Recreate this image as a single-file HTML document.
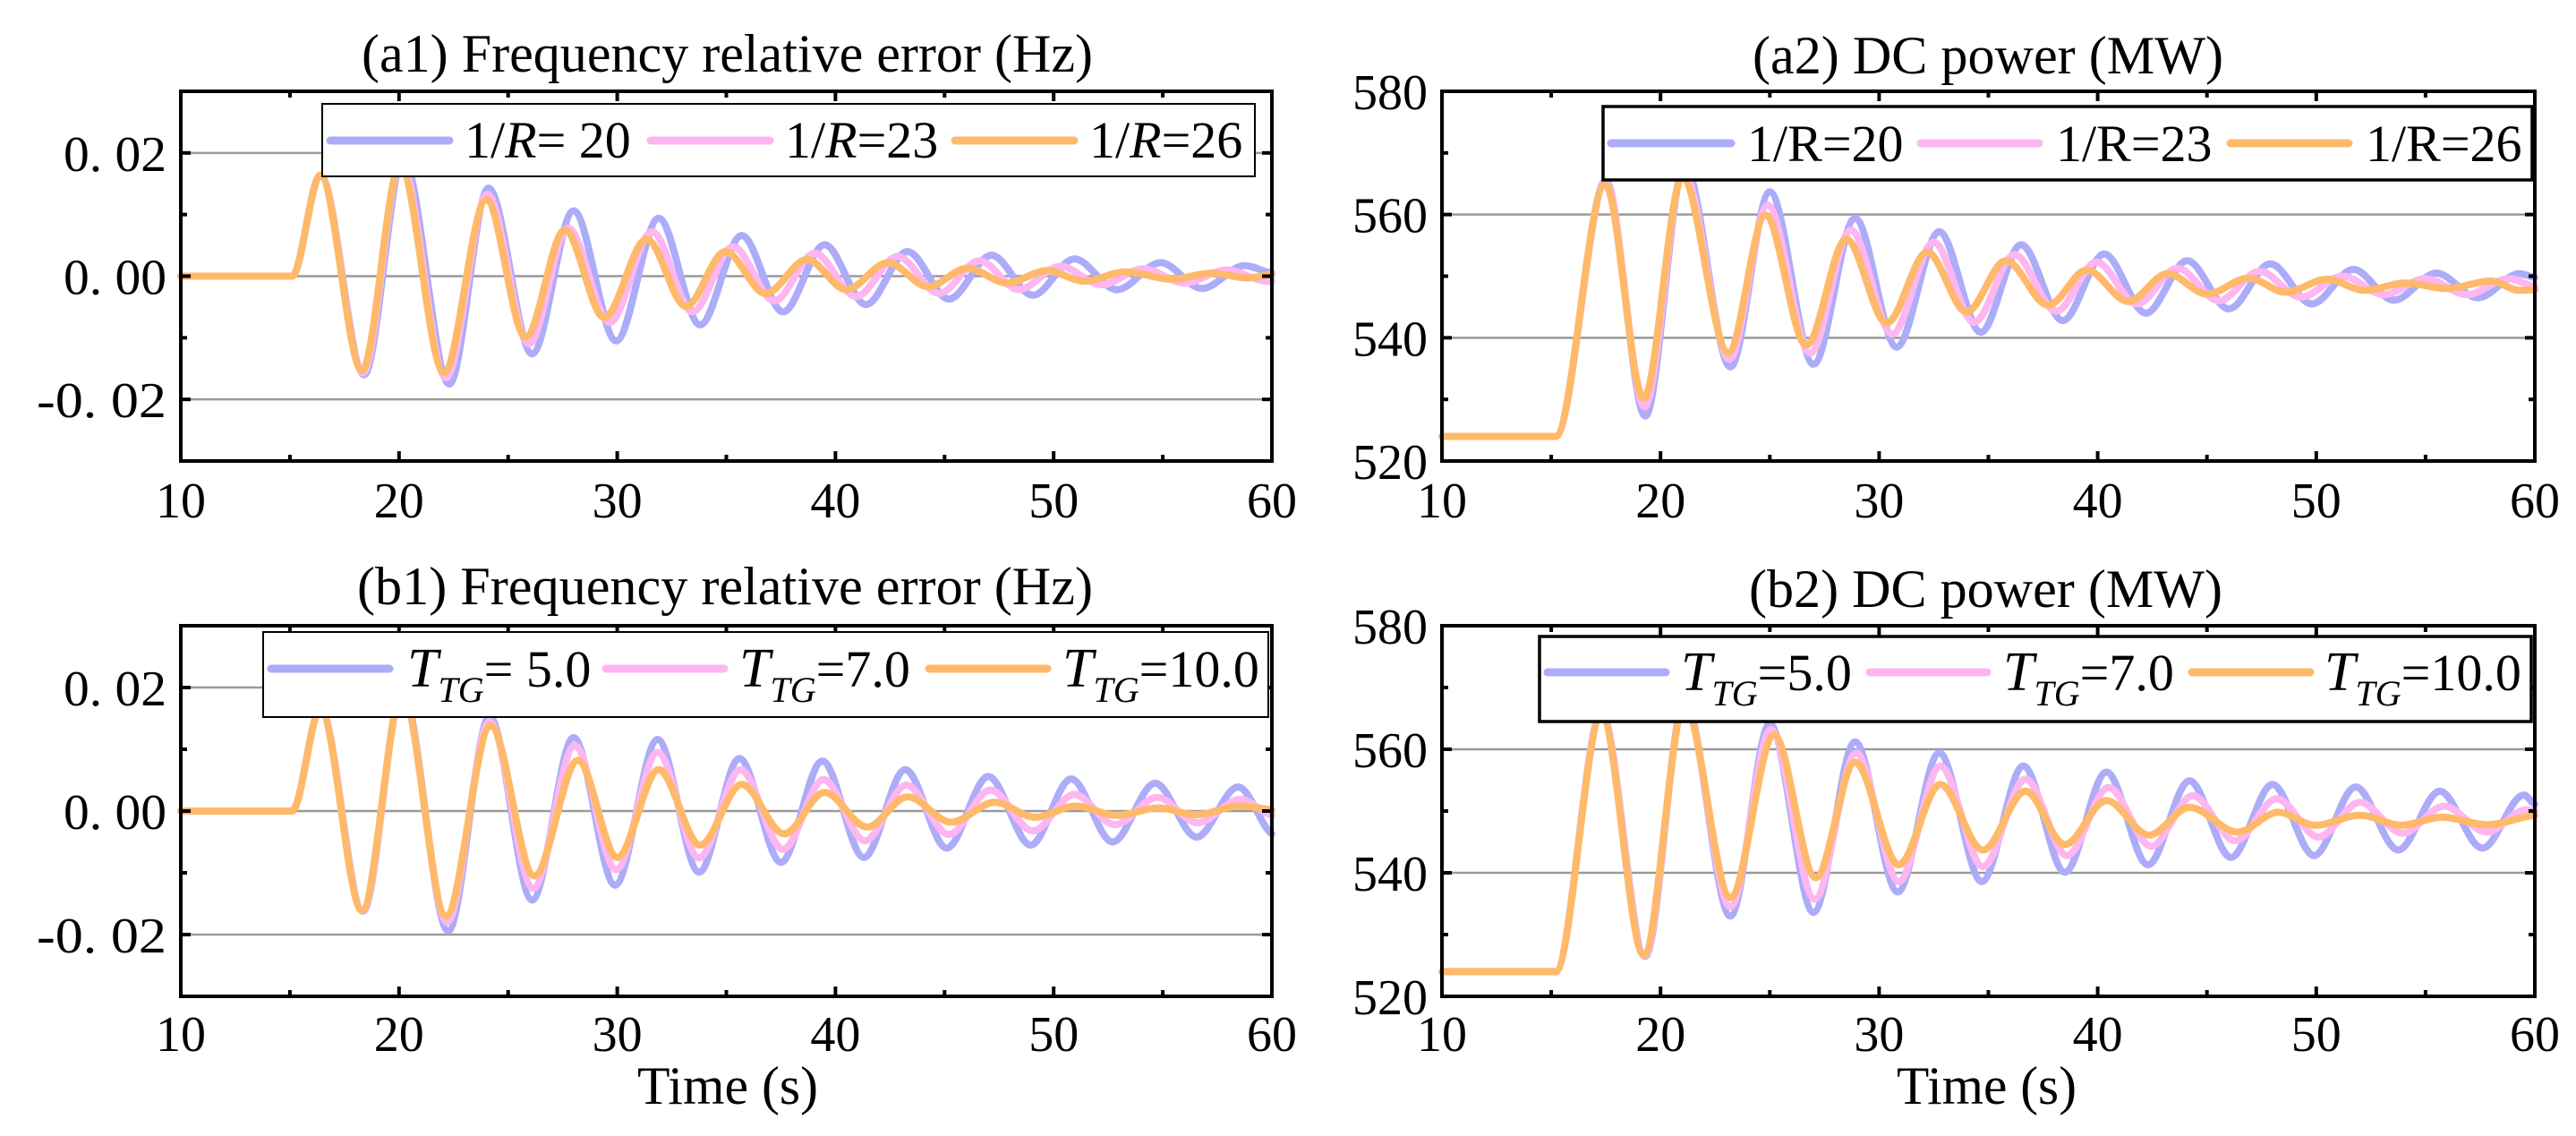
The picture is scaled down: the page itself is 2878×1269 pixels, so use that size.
<!DOCTYPE html>
<html><head><meta charset="utf-8"><style>
html,body{margin:0;padding:0;background:#fff;}
svg{display:block;font-family:"Liberation Serif","Times New Roman",serif;}
</style></head><body>
<svg id="fig" width="2878" height="1269" viewBox="0 0 2878 1269" xmlns="http://www.w3.org/2000/svg"></svg>
<script>
// ---- data (extrema) ----
const a1BlueT=[10,15.1,16.4,18.4,20.2,22.3,24.1,26.1,28.0,29.95,31.9,33.8,35.7,37.6,39.5,41.4,43.3,45.2,47.15,49.05,50.95,52.9,54.9,56.8,58.75,60];
const a1BlueV=[0,0,0.0164,-0.016,0.019,-0.0175,0.0143,-0.0126,0.0106,-0.0105,0.0094,-0.0079,0.0066,-0.0058,0.0051,-0.0046,0.004,-0.0037,0.0034,-0.0031,0.0028,-0.0022,0.0022,-0.002,0.0017,0.0005];
const a1PinkT=[10,15.1,16.4,18.35,20.1,22.15,24.05,25.95,27.75,29.65,31.6,33.45,35.3,37.2,39.05,40.95,42.85,44.75,46.6,48.4,50.3,52.2,54.1,56.0,57.9,59.8,60];
const a1PinkV=[0,0,0.0164,-0.0157,0.0185,-0.0165,0.0133,-0.011,0.0078,-0.0075,0.0072,-0.0058,0.0048,-0.004,0.0037,-0.0033,0.0032,-0.0028,0.0025,-0.0022,0.0016,-0.0014,0.0012,-0.0011,0.001,-0.0008,-0.0008];
const a1OrangeT=[10,15.1,16.4,18.3,20.05,22.05,24.0,25.8,27.6,29.4,31.35,33.15,34.95,36.8,38.7,40.5,42.4,44.25,46.05,47.85,49.7,51.4,53.3,55.4,57.25,58.9,60];
const a1OrangeV=[0,0,0.0164,-0.0153,0.018,-0.0156,0.0124,-0.0099,0.0075,-0.0067,0.006,-0.0049,0.004,-0.0028,0.0027,-0.0022,0.0022,-0.0017,0.0013,-0.0011,0.0009,-0.0008,0.0007,-0.0005,0.0005,-0.0003,0.0003];

const a2BlueT=[10,15.2,17.5,19.3,21.1,23.2,25.0,27.0,28.9,30.8,32.75,34.65,36.5,38.4,40.3,42.2,44.1,46.0,47.9,49.8,51.7,53.55,55.5,57.4,59.3,60];
const a2BlueV=[524,524,565.5,527.3,568,535.3,563.7,535.7,559.4,538.5,557.2,540.9,555.1,542.8,553.6,544,552.5,544.7,552,545.5,551.1,546.1,550.5,546.5,550.4,549.8];
const a2PinkT=[10,15.2,17.5,19.27,21.05,23.15,24.9,26.85,28.7,30.6,32.5,34.35,36.2,38.1,39.95,41.8,43.65,45.55,47.4,49.3,51.2,53.1,55.0,56.9,58.8,60];
const a2PinkV=[524,524,565.2,528.8,567,536.5,561.5,537.5,557.5,540.6,555.5,542.5,553.5,544.3,552.3,545.5,551.3,546,550.8,546.6,550,547,549.6,547,549.6,548.3];
const a2OrangeT=[10,15.2,17.47,19.23,21.0,23.1,24.8,26.67,28.5,30.35,32.2,34.0,35.8,37.74,39.5,41.4,43.2,45.0,46.9,48.6,50.5,52.2,54.1,55.95,58.0,59.3,60];
const a2OrangeV=[524,524,564.9,530.2,566,537.6,559.9,538.8,556,542.4,553.9,544.2,552.5,545.3,551,545.9,550.4,547.1,549.7,547.4,549.5,547.7,548.9,548,549.2,547.7,547.8];

const b1BlueT=[10,15.1,16.4,18.35,20.15,22.25,24.15,26.1,28.0,29.9,31.85,33.75,35.6,37.5,39.4,41.3,43.2,45.1,47.0,48.95,50.8,52.7,54.65,56.55,58.45,60];
const b1BlueV=[0,0,0.0165,-0.0162,0.0195,-0.0194,0.0153,-0.0144,0.0119,-0.012,0.0116,-0.0099,0.0085,-0.0083,0.0081,-0.0075,0.0067,-0.006,0.0056,-0.0055,0.0052,-0.005,0.0045,-0.0042,0.0039,-0.0037];
const b1PinkT=[10,15.1,16.4,18.33,20.15,22.2,24.15,26.15,28.05,29.95,31.85,33.75,35.65,37.6,39.45,41.35,43.25,45.2,47.1,49.05,50.95,52.8,54.75,56.6,58.55,60];
const b1PinkV=[0,0,0.0165,-0.0161,0.019,-0.018,0.0145,-0.0125,0.0106,-0.0095,0.0095,-0.0076,0.0067,-0.0062,0.0051,-0.0048,0.0042,-0.0038,0.0034,-0.0032,0.0027,-0.0022,0.0022,-0.0019,0.0019,-0.0007];
const b1OrangeT=[10,15.1,16.4,18.3,20.15,22.15,24.2,26.2,28.2,30.0,31.9,33.8,35.7,37.65,39.5,41.45,43.3,45.3,47.3,49.15,51.0,52.9,54.8,56.5,58.55,60];
const b1OrangeV=[0,0,0.0165,-0.0161,0.019,-0.017,0.0138,-0.0105,0.0082,-0.0075,0.0067,-0.0055,0.0043,-0.0037,0.003,-0.0026,0.0023,-0.0018,0.0014,-0.001,0.0008,-0.0007,0.0005,-0.0006,0.0008,0.0002];

const b2BlueT=[10,15.2,17.3,19.3,21.1,23.2,25.0,27.0,28.9,30.85,32.75,34.7,36.6,38.5,40.4,42.3,44.2,46.1,48.0,49.9,51.8,53.75,55.65,57.6,59.5,60];
const b2BlueV=[524,524,566,526.5,568,533,564.1,533.6,561.2,536.9,559.4,538.6,557.3,540.1,556.3,541.3,554.9,542.5,554.3,542.8,553.9,543.7,553.2,544,552.6,551.1];
const b2PinkT=[10,15.2,17.3,19.27,21.1,23.2,25.05,27.05,28.95,30.9,32.8,34.75,36.7,38.6,40.5,42.45,44.35,46.3,48.2,50.1,52.0,53.95,55.85,57.8,59.6,60];
const b2PinkV=[524,524,566,526.6,567.5,534.5,563.2,535.7,559.4,538.6,557.3,541,555.2,542.8,553.8,544.3,552.5,545.2,552,545.8,551.4,546.4,550.8,546.6,550.2,549.9];
const b2OrangeT=[10,15.2,17.3,19.23,21.1,23.2,25.2,27.1,28.9,30.9,32.8,34.75,36.7,38.5,40.4,42.35,44.2,46.4,48.25,49.95,52.0,53.9,55.75,57.8,60];
const b2OrangeV=[524,524,565.5,526.7,567,536,562.3,539.2,557.9,541.3,554.3,543.7,553.2,544.6,551.7,546.1,550.6,546.6,549.8,547.7,549.3,547.7,549,547.8,549.3];

const xTicks=[10,20,30,40,50,60];
const xMinor=[15,25,35,45,55];
const freqTicks=[0.02,0,-0.02];
const freqTickLabels=["0. 02","0. 00","-0. 02"];
const freqMinor=[0.01,-0.01];
const powTicks=[580,560,540,520];
const powTickLabels=["580","560","540","520"];
const powGrid=[560,540];
const powMinor=[570,550,530];

const NS="http://www.w3.org/2000/svg";
const svg=document.getElementById('fig');
const COL={blue:"#acacf9",pink:"#feb6f1",orange:"#ffb96a"};

function el(tag,attrs,parent){const e=document.createElementNS(NS,tag);for(const k in attrs)e.setAttribute(k,attrs[k]);(parent||svg).appendChild(e);return e;}

function monoPath(T,V,sx,sy){
  const n=T.length,x=T.map(sx),y=V.map(sy);
  const d=[],m=new Array(n).fill(0);
  for(let i=0;i<n-1;i++)d.push((y[i+1]-y[i])/(x[i+1]-x[i]));
  for(let i=1;i<n-1;i++){m[i]=(d[i-1]*d[i]<=0)?0:(d[i-1]+d[i])/2;}
  m[0]=0;m[n-1]=d[n-2]*0.5;
  let p="M"+x[0].toFixed(1)+","+y[0].toFixed(1);
  for(let i=0;i<n-1;i++){const h=(x[i+1]-x[i])/3;
    p+=" C"+(x[i]+h).toFixed(1)+","+(y[i]+m[i]*h).toFixed(1)+" "+(x[i+1]-h).toFixed(1)+","+(y[i+1]-m[i+1]*h).toFixed(1)+" "+x[i+1].toFixed(1)+","+y[i+1].toFixed(1);}
  return p;
}

function panel(cfg){
  const g=el('g',{});
  
  
  const L=cfg.L,R=cfg.R,Tp=cfg.T,B=cfg.B;
  const sx=v=>L+(v-10)/50*(R-L);
  const sy=v=>Tp+(cfg.ymax-v)/(cfg.ymax-cfg.ymin)*(B-Tp);
  // title
  const tt=el('text',{x:cfg.title[1],y:cfg.title[3],'font-size':60,textLength:cfg.title[2]-cfg.title[1],lengthAdjust:'spacingAndGlyphs'},g);
  tt.textContent=cfg.title[0];
  
  
  // grid
  cfg.grid.forEach(v=>{const l=el('line',{x1:L,x2:R,y1:sy(v),y2:sy(v),stroke:'#9a9a9a','stroke-width':2.5},g);
    
    });
  // series
  cfg.series.forEach(s=>{const p=el('path',{d:monoPath(s.t,s.v,sx,sy),fill:'none',stroke:s.c,'stroke-width':8,'stroke-linejoin':'round','stroke-linecap':'round'},g);
    
    });
  // frame
  const fr=el('rect',{x:L,y:Tp,width:R-L,height:B-Tp,fill:'none',stroke:'#000','stroke-width':4},g);
  
  
  // x ticks
  xTicks.forEach(v=>{const x=sx(v);
    el('line',{x1:x,x2:x,y1:B,y2:B-11,stroke:'#000','stroke-width':4},g);
    el('line',{x1:x,x2:x,y1:Tp,y2:Tp+11,stroke:'#000','stroke-width':4},g);
    const t=el('text',{x:x,y:cfg.xlabY,'font-size':56,'text-anchor':'middle'},g);t.textContent=String(v);
    
    });
  xMinor.forEach(v=>{const x=sx(v);
    el('line',{x1:x,x2:x,y1:B,y2:B-7,stroke:'#000','stroke-width':4},g);
    el('line',{x1:x,x2:x,y1:Tp,y2:Tp+7,stroke:'#000','stroke-width':4},g);});
  cfg.yt.forEach((v,i)=>{const y=sy(v);
    el('line',{x1:L,x2:L+11,y1:y,y2:y,stroke:'#000','stroke-width':4},g);
    el('line',{x1:R,x2:R-11,y1:y,y2:y,stroke:'#000','stroke-width':4},g);
    const lab=cfg.ytl[i];
    const a={x:L-16,y:y+20,'font-size':56,'text-anchor':'end'};
    if(cfg.freq){a.textLength=lab.startsWith('-')?145:115;a.lengthAdjust='spacingAndGlyphs';}
    const t=el('text',a,g);t.textContent=lab;
    
    });
  cfg.ym.forEach(v=>{const y=sy(v);
    el('line',{x1:L,x2:L+7,y1:y,y2:y,stroke:'#000','stroke-width':4},g);
    el('line',{x1:R,x2:R-7,y1:y,y2:y,stroke:'#000','stroke-width':4},g);});
  if(cfg.xtitle){const t=el('text',{x:cfg.xtitle[0],y:cfg.xtitle[2],'font-size':60,textLength:cfg.xtitle[1]-cfg.xtitle[0],lengthAdjust:'spacingAndGlyphs'},g);
    t.textContent='Time (s)';
    
    }
  // legend
  const lg=cfg.leg;
  const lgG=el('g',{},g);
  
  
  el('rect',{x:lg.x1,y:lg.y1,width:lg.x2-lg.x1,height:lg.y2-lg.y1,fill:'#fff',stroke:'#000','stroke-width':lg.sw},lgG);
  lg.items.forEach((it,i)=>{const s=cfg.series[i];
    const ln=el('line',{x1:it[0],x2:it[1],y1:lg.ly,y2:lg.ly,stroke:s.c,'stroke-width':9,'stroke-linecap':'round'},lgG);
    
    
    const t=el('text',{x:it[2],y:lg.ty,'font-size':58},lgG);
    
    
    if(lg.kind==='R'){
      const a=el('tspan',{},t);a.textContent='1/';
      const b=el('tspan',{'font-style':lg.italic?'italic':'normal'},t);b.textContent='R';
      const c=el('tspan',{},t);c.textContent=it[3];
    }else{
      const a=el('tspan',{'font-style':'italic','font-size':62},t);a.textContent='T';
      const b=el('tspan',{'font-style':'italic','font-size':40,dy:17},t);b.textContent='TG';
      const c=el('tspan',{dy:-17,'font-size':58},t);c.textContent=it[3];
    }
  });
}

panel({name:'panel-a1',L:202,R:1421,T:102,B:515,ymin:-0.03,ymax:0.03,freq:true,
  title:['(a1) Frequency relative error (Hz)',404,1221,80],
  grid:freqTicks,yt:freqTicks,ytl:freqTickLabels,ym:freqMinor,xlabY:578,
  series:[{t:a1BlueT,v:a1BlueV,c:COL.blue,n:'series-1R-20'},{t:a1PinkT,v:a1PinkV,c:COL.pink,n:'series-1R-23'},{t:a1OrangeT,v:a1OrangeV,c:COL.orange,n:'series-1R-26'}],
  leg:{x1:360,y1:116,x2:1402,y2:197,sw:2,ly:157,ty:176,kind:'R',italic:true,items:[[369,502,519,'= 20'],[727,860,877,'=23'],[1067,1200,1217,'=26']]}});

panel({name:'panel-a2',L:1611,R:2832,T:102,B:515,ymin:520,ymax:580,
  title:['(a2) DC power (MW)',1958,2484,82],
  grid:powGrid,yt:powTicks,ytl:powTickLabels,ym:powMinor,xlabY:578,
  series:[{t:a2BlueT,v:a2BlueV,c:COL.blue,n:'series-1R-20'},{t:a2PinkT,v:a2PinkV,c:COL.pink,n:'series-1R-23'},{t:a2OrangeT,v:a2OrangeV,c:COL.orange,n:'series-1R-26'}],
  leg:{x1:1791,y1:119,x2:2829,y2:201,sw:3.5,ly:160,ty:180,kind:'R',italic:false,items:[[1800,1934,1952,'=20'],[2146,2278,2297,'=23'],[2492,2624,2643,'=26']]}});

panel({name:'panel-b1',L:202,R:1421,T:699,B:1113,ymin:-0.03,ymax:0.03,freq:true,
  title:['(b1) Frequency relative error (Hz)',399,1221,675],
  grid:freqTicks,yt:freqTicks,ytl:freqTickLabels,ym:freqMinor,xlabY:1174,xtitle:[712,914,1233],
  series:[{t:b1BlueT,v:b1BlueV,c:COL.blue,n:'series-ttg-5'},{t:b1PinkT,v:b1PinkV,c:COL.pink,n:'series-ttg-7'},{t:b1OrangeT,v:b1OrangeV,c:COL.orange,n:'series-ttg-10'}],
  leg:{x1:294,y1:706,x2:1417,y2:801,sw:2,ly:747,ty:767,kind:'T',items:[[303,435,455,'= 5.0'],[677,809,826,'=7.0'],[1038,1170,1187,'=10.0']]}});

panel({name:'panel-b2',L:1611,R:2832,T:699,B:1113,ymin:520,ymax:580,
  title:['(b2) DC power (MW)',1954,2483,678],
  grid:powGrid,yt:powTicks,ytl:powTickLabels,ym:powMinor,xlabY:1174,xtitle:[2119,2320,1233],
  series:[{t:b2BlueT,v:b2BlueV,c:COL.blue,n:'series-ttg-5'},{t:b2PinkT,v:b2PinkV,c:COL.pink,n:'series-ttg-7'},{t:b2OrangeT,v:b2OrangeV,c:COL.orange,n:'series-ttg-10'}],
  leg:{x1:1720,y1:711,x2:2828,y2:806,sw:3.5,ly:751,ty:771,kind:'T',items:[[1729,1861,1878,'=5.0'],[2089,2220,2238,'=7.0'],[2449,2581,2597,'=10.0']]}});
</script>
</body></html>
